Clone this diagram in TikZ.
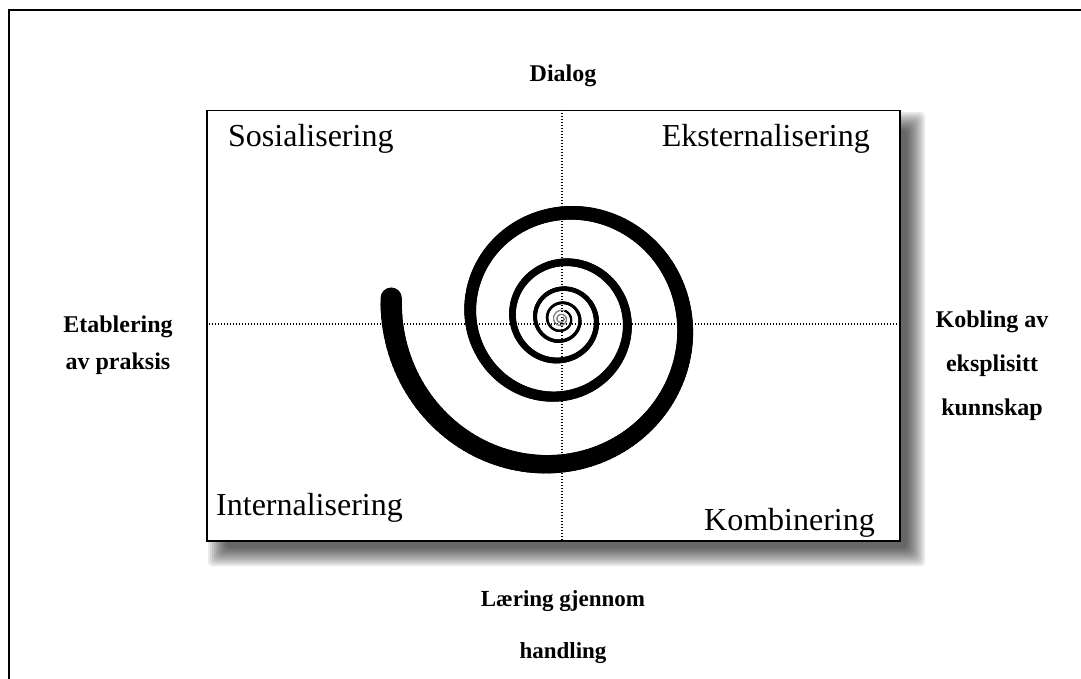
\documentclass[tikz,border=0pt]{standalone}
\usepackage{fontspec}
\setmainfont{Liberation Serif}
\begin{document}
\begin{tikzpicture}[x=1pt,y=-1pt,
  quad/.style={font=\fontsize{32}{38}\selectfont, inner sep=0pt},
  axislabel/.style={font=\fontsize{24}{37}\selectfont\bfseries, align=center, inner sep=0pt},
  dotline/.style={line width=1.2pt, dash pattern=on 1.2pt off 1.8pt}]
\useasboundingbox (0,0) rectangle (1081,679);
% outer frame (left and top only)
\draw[line width=2pt] (9,679) -- (9,10) -- (1081,10);
% blurred shadow
\foreach \e in {-6,-4,...,12} {
  \fill[black, opacity=0.085, rounded corners=4pt] (220-\e,124-\e) rectangle (913+\e,554+\e);
}
% main box
\node[draw=black, line width=1.5pt, fill=white, minimum width=693pt, minimum height=430pt, inner sep=0pt, anchor=north west] (box) at (206,110) {};
% dotted axes
\coordinate (vt) at (562,110);
\coordinate (vb) at (562,540);
\coordinate (hl) at (206,324);
\coordinate (hr) at (899,324);
\draw[dotline] (vt) -- (vb);
\draw[dotline] (hl) -- (hr);
% spiral
\foreach \i in {0,...,1193} {
  \pgfmathsetmacro\ta{173+2*\i}
  \pgfmathsetmacro\tb{\ta+2.3}
  \pgfmathsetmacro\ra{169*exp(-0.0017375*(\ta-180))}
  \pgfmathsetmacro\rb{169*exp(-0.0017375*(\tb-180))}
  \pgfmathsetmacro\w{0.8+0.12*\ra}
  \ifdim\ra pt<9pt
    \draw[gray, line width=0.9pt, line cap=round] ({561+\ra*cos(\ta)},{319-\ra*sin(\ta)}) -- ({561+\rb*cos(\tb)},{319-\rb*sin(\tb)});
  \else
    \draw[black, line width=\w pt, line cap=round] ({561+\ra*cos(\ta)},{319-\ra*sin(\ta)}) -- ({561+\rb*cos(\tb)},{319-\rb*sin(\tb)});
  \fi
}
% quadrant labels
\node[quad, anchor=base west] (sos) at (228,147) {Sosialisering};
\node[quad, anchor=base east] (eks) at (870,147) {Eksternalisering};
\node[quad, anchor=base west] (int) at (216,515) {Internalisering};
\node[quad, anchor=base east] (kom) at (875,530) {Kombinering};
% outer labels
\node[axislabel] (dia) at (563,76) {Dialog};
\node[axislabel] (eta) at (118,345) {Etablering\\av praksis};
\node[axislabel, font=\fontsize{24}{44}\selectfont\bfseries] (kob) at (992,366) {Kobling av\\eksplisitt\\kunnskap};
\node[axislabel, font=\fontsize{23}{52}\selectfont\bfseries] (lae) at (563,627) {Læring gjennom\\handling};
\end{tikzpicture}
\end{document}
